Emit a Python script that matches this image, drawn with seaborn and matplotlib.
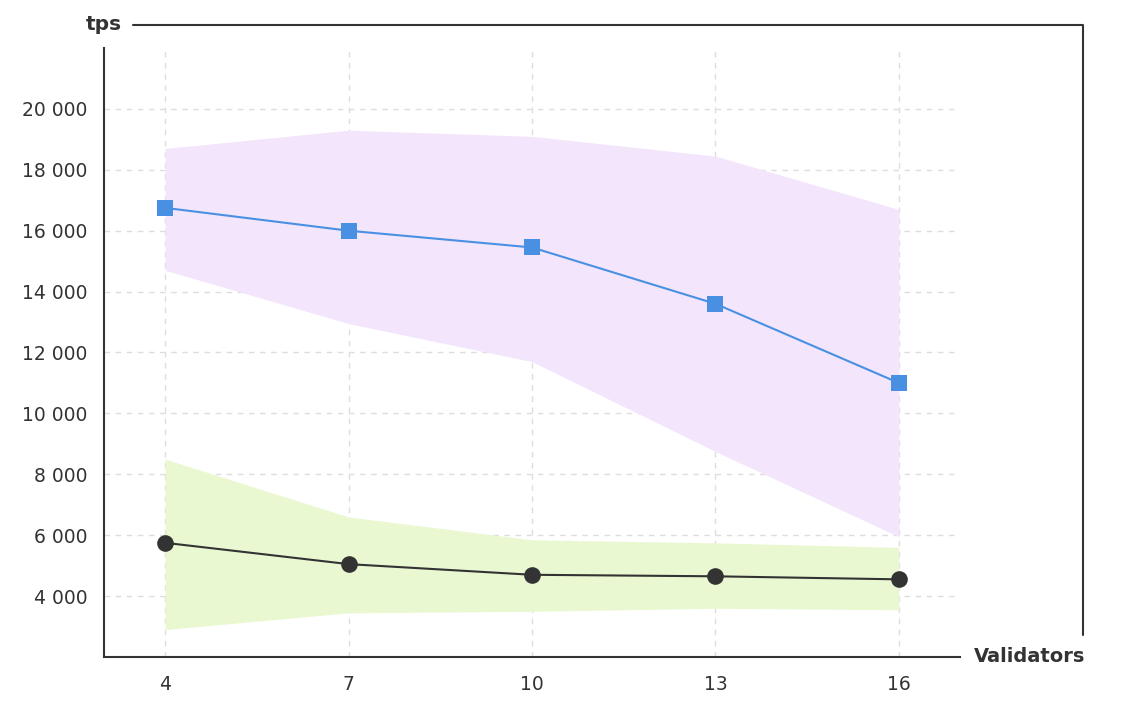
import matplotlib
matplotlib.use("Agg")
import matplotlib.pyplot as plt
import matplotlib.ticker as mticker
import seaborn as sns
import pandas as pd

validators = [4, 7, 10, 13, 16]
fast_mean = [16750, 16000, 15450, 13600, 11000]
fast_upper = [18700, 19300, 19100, 18450, 16700]
fast_lower = [14700, 12950, 11700, 8750, 5950]
slow_mean = [5750, 5050, 4700, 4650, 4550]
slow_upper = [8500, 6600, 5850, 5750, 5600]
slow_lower = [2900, 3450, 3500, 3600, 3550]
y_ticks = [4000, 6000, 8000, 10000, 12000, 14000, 16000, 18000, 20000]

sns.set_theme(style="white")
plt.rcParams['font.family'] = ['DejaVu Sans']

fig = plt.figure(figsize=(11.39, 7.07), dpi=100)
ax = fig.add_axes([104/1139, 50/707, 856/1139, 609/707])

dark = "#333333"
blue = "#4a90e2"

ax.fill_between(validators, fast_lower, fast_upper, color="#f3e6fc", linewidth=0, zorder=1)
ax.fill_between(validators, slow_lower, slow_upper, color="#eaf8d2", linewidth=0, zorder=1)

df_fast = pd.DataFrame({"v": validators, "tps": fast_mean})
df_slow = pd.DataFrame({"v": validators, "tps": slow_mean})
sns.lineplot(data=df_fast, x="v", y="tps", ax=ax, color=blue, linewidth=1.5,
             marker="s", markersize=12, markeredgewidth=0, zorder=4)
sns.lineplot(data=df_slow, x="v", y="tps", ax=ax, color=dark, linewidth=1.5,
             marker="o", markersize=12, markeredgewidth=0, zorder=4)

ax.set_xlim(3, 17)
ax.set_ylim(2000, 22000)
ax.set_xticks(validators)
ax.set_yticks(y_ticks)
ax.yaxis.set_major_formatter(mticker.FuncFormatter(lambda v, p: f"{int(v):,}".replace(",", " ")))
ax.grid(True, color="#dddddd", linestyle=(0, (4, 4)), linewidth=1)
ax.set_axisbelow(True)
ax.tick_params(axis="both", length=0, labelsize=13.5, colors="#333333")
ax.tick_params(axis="y", pad=12)
ax.tick_params(axis="x", pad=13)
ax.set_xlabel("")
ax.set_ylabel("")

for s in ["top", "right"]:
    ax.spines[s].set_visible(False)
for s in ["left", "bottom"]:
    ax.spines[s].set_color(dark)
    ax.spines[s].set_linewidth(1.5)

# decorative frame
ax.plot([0.034, 1.1437, 1.1437], [1.0378, 1.0378, 0.0361], transform=ax.transAxes,
        color=dark, linewidth=1.5, clip_on=False)
ax.text(0.0, 1.0378, "tps", transform=ax.transAxes, ha="center", va="center",
        fontsize=14.5, fontweight="bold", color=dark)
ax.text(1.0818, 0.0, "Validators", transform=ax.transAxes, ha="center", va="center",
        fontsize=14, fontweight="bold", color=dark)

fig.savefig("out.png", dpi=100, facecolor="white")
